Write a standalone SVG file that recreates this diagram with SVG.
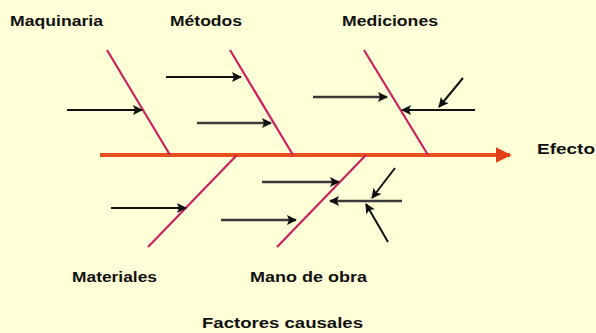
<svg xmlns="http://www.w3.org/2000/svg" width="596" height="333" viewBox="0 0 596 333">
<defs>
<style>
.lbl{font-family:"Liberation Sans",Arial,sans-serif;font-size:14px;font-weight:bold;fill:#111}
.rib{stroke:#CC2060;stroke-width:2.2;fill:none}
.ar{stroke:#111;stroke-width:2;fill:none;marker-end:url(#ah)}
.ag{stroke:#3a3a3a;stroke-width:2.6;fill:none;marker-end:url(#ah)}
</style>
<marker id="ah" viewBox="0 0 10 10" refX="9" refY="5" markerWidth="11" markerHeight="10" orient="auto" markerUnits="userSpaceOnUse">
<path d="M0,0 L10,5 L0,10 L2,5 Z" fill="#111"/>
</marker>
<marker id="sh" viewBox="0 0 10 10" refX="9" refY="5" markerWidth="4" markerHeight="4" orient="auto" markerUnits="strokeWidth">
<path d="M0,0 L10,5 L0,10 Z" fill="#E0401A"/>
</marker>
</defs>
<rect width="596" height="333" fill="#FFFFD8"/>
<g id="connectors">
<line x1="100" y1="155" x2="510" y2="155" stroke="#E8501E" stroke-width="4" marker-end="url(#sh)"/>
<line class="rib" x1="107" y1="50" x2="170" y2="155"/>
<line class="rib" x1="230" y1="50" x2="293" y2="155"/>
<line class="rib" x1="364" y1="50" x2="428" y2="155"/>
<line class="rib" x1="237" y1="155" x2="148" y2="247"/>
<line class="rib" x1="366" y1="155" x2="277" y2="247"/>
<line class="ar" x1="67" y1="110" x2="142" y2="110"/>
<line class="ar" x1="166" y1="77" x2="241" y2="77"/>
<line class="ag" x1="197" y1="123" x2="271" y2="123"/>
<line class="ag" x1="313" y1="97" x2="387" y2="97"/>
<line class="ar" x1="475" y1="110" x2="402" y2="110"/>
<line class="ar" x1="463" y1="78" x2="439" y2="107"/>
<line class="ar" x1="111" y1="208" x2="186" y2="208"/>
<line class="ag" x1="221" y1="220" x2="296" y2="220"/>
<line class="ag" x1="262" y1="182" x2="339" y2="182"/>
<line class="ag" x1="402" y1="201" x2="330" y2="201"/>
<line class="ar" x1="395" y1="168" x2="372" y2="198"/>
<line class="ar" x1="388" y1="242" x2="366" y2="204"/>
</g>
<g id="maquinaria"><text class="lbl" x="10" y="26" textLength="93" lengthAdjust="spacingAndGlyphs">Maquinaria</text></g>
<g id="metodos"><text class="lbl" x="170" y="26" textLength="72" lengthAdjust="spacingAndGlyphs">Métodos</text></g>
<g id="mediciones"><text class="lbl" x="342" y="26" textLength="96" lengthAdjust="spacingAndGlyphs">Mediciones</text></g>
<g id="efecto"><text class="lbl" x="537" y="154" textLength="58" lengthAdjust="spacingAndGlyphs">Efecto</text></g>
<g id="materiales"><text class="lbl" x="72" y="282" textLength="85" lengthAdjust="spacingAndGlyphs">Materiales</text></g>
<g id="mano-de-obra"><text class="lbl" x="250" y="282" textLength="117" lengthAdjust="spacingAndGlyphs">Mano de obra</text></g>
<g id="factores"><text class="lbl" x="202" y="328" textLength="161" lengthAdjust="spacingAndGlyphs">Factores causales</text></g>
</svg>
